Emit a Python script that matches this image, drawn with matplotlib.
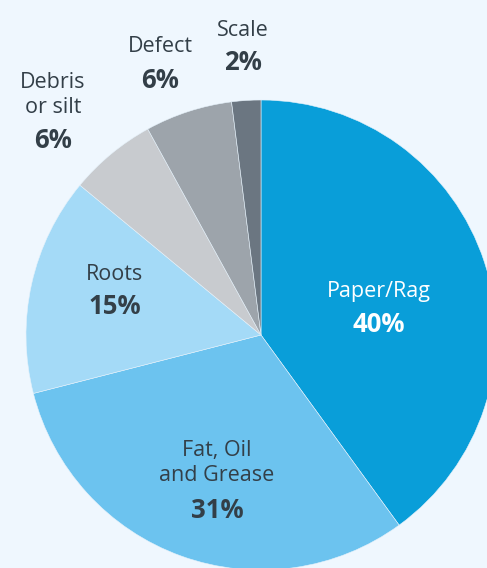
import matplotlib
matplotlib.use("Agg")
import matplotlib.pyplot as plt

# Causes of sewer blockages (share of incidents, %)
categories = ["Paper/Rag", "Fat, Oil\nand Grease", "Roots", "Debris\nor silt", "Defect", "Scale"]
shares = [40, 31, 15, 6, 6, 2]

colors = ["#099ED9", "#6CC3EF", "#A4DAF7", "#C8CBCF", "#9DA4AB", "#6B7681"]
text_colors = ["white", "#333F48", "#333F48", "#333F48", "#333F48", "#333F48"]

# label anchor (pixel coords: x, y of name block centre, y of percentage)
label_pos = [
    (379, 291, 324),
    (217, 463, 510),
    (115, 274, 307),
    (53, 95, 141),
    (160, 46, 81),
    (243, 30, 63),
]

W, H = 487, 568
BG = "#EFF7FE"
fig = plt.figure(figsize=(W / 100, H / 100), dpi=100, facecolor=BG)
ax = fig.add_axes([0, 0, 1, 1])
ax.set_facecolor(BG)

cx, cy, r = 261, 335, 235
ax.pie(shares, colors=colors, startangle=90, counterclock=False,
       center=(cx, H - cy), radius=r,
       wedgeprops=dict(linewidth=0.4, edgecolor="#E6F2FB"))
ax.set_xlim(0, W)
ax.set_ylim(0, H)
ax.set_aspect("equal")
ax.axis("off")

font = "Open Sans"
for name, val, tc, (x, yn, yp) in zip(categories, shares, text_colors, label_pos):
    ax.text(x, H - yn, name, ha="center", va="center", fontsize=15.5,
            family=font, color=tc, linespacing=1.2)
    ax.text(x, H - yp, f"{val}%", ha="center", va="center", fontsize=18.5,
            family=font, fontweight="bold", color=tc)

fig.savefig("out.png", dpi=100, facecolor=BG)
